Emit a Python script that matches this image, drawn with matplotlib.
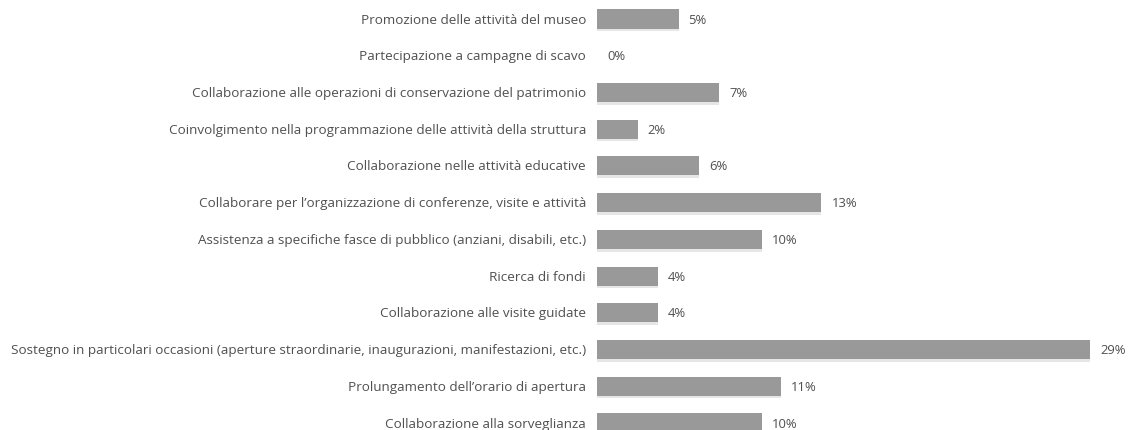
import numpy as np
import matplotlib.pyplot as plt

# %%
# Data (top to bottom)
categories = [
    "Promozione delle attività del museo",
    "Partecipazione a campagne di scavo",
    "Collaborazione alle operazioni di conservazione del patrimonio",
    "Coinvolgimento nella programmazione delle attività della struttura",
    "Collaborazione nelle attività educative",
    "Collaborare per l\u2019organizzazione di conferenze, visite e attività",
    "Assistenza a specifiche fasce di pubblico (anziani, disabili, etc.)",
    "Ricerca di fondi",
    "Collaborazione alle visite guidate",
    "Sostegno in particolari occasioni (aperture straordinarie, inaugurazioni, manifestazioni, etc.)",
    "Prolungamento dell\u2019orario di apertura",
    "Collaborazione alla sorveglianza",
]
values = [4.8, 0.0, 7.2, 2.4, 6.0, 13.2, 9.7, 3.6, 3.6, 29.0, 10.8, 9.7]
value_labels = ["5%", "0%", "7%", "2%", "6%", "13%", "10%", "4%", "4%", "29%", "11%", "10%"]

# %%
W, H = 1129, 431
fig = plt.figure(figsize=(W / 100, H / 100), dpi=100)
x0, x1 = 597, 1090
ax = fig.add_axes([x0 / W, 0, (x1 - x0) / W, 1])

pos = np.arange(len(categories))
bar_color = "#999999"
text_color = "#505050"

# faint shadow under each bar
ax.barh(pos + 0.07, values, height=0.52, color="#e6e6e6", zorder=1)
ax.barh(pos, values, height=0.52, color=bar_color, zorder=2)

ax.set_xlim(0, 29)
ax.set_ylim(11.19, -0.545)
ax.axis("off")

px = 29 / (x1 - x0)  # data units per pixel
for p, v, lab, cat in zip(pos, values, value_labels, categories):
    ax.text(v + 10 * px, p, lab, va="center", ha="left", fontsize=9.4,
            color=text_color, family="Open Sans", clip_on=False)
    ax.text(-11 * px, p, cat, va="center", ha="right", fontsize=9.7,
            color=text_color, family="Open Sans", clip_on=False)

fig.savefig("out.png", dpi=100)
